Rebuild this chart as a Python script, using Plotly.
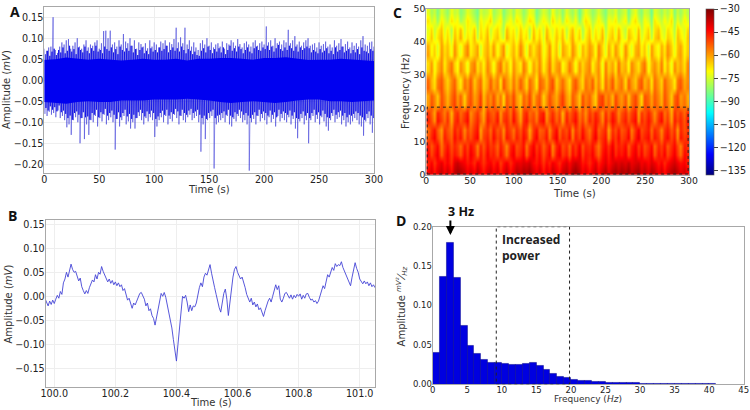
import plotly.graph_objects as go
from plotly.subplots import make_subplots

W = 750
H = 410

# panel A: largest peak of the trace every 2 s
a_time = list(range(0, 301, 2))
a_upper = [
    .075,.070,.078,.080,.150,.072,.065,.080,.090,.085,
    .095,.098,.075,.082,.090,.100,.080,.075,.085,.095,
    .078,.085,.082,.090,.095,.075,.088,.117,.118,.100,
    .118,.085,.090,.080,.095,.085,.110,.092,.088,.100,
    .082,.095,.075,.090,.086,.080,.088,.076,.095,.080,
    .090,.085,.078,.092,.088,.095,.082,.090,.086,.098,
    .125,.090,.102,.088,.125,.085,.095,.080,.090,.078,
    .072,.088,.095,.085,.100,.082,.090,.078,.085,.088,
    .080,.092,.075,.088,.085,.095,.090,.082,.098,.086,
    .078,.088,.092,.085,.080,.090,.095,.082,.088,.092,
    .085,.128,.090,.095,.082,.100,.088,.092,.085,.095,
    .090,.120,.088,.095,.105,.085,.092,.082,.090,.095,
    .100,.082,.085,.088,.078,.090,.082,.086,.092,.080,
    .085,.078,.095,.082,.088,.098,.080,.086,.092,.078,
    .090,.082,.088,.080,.095,.105,.085,.082,.090,.092,
    .080]
a_lower = [
    -.080,-.085,-.075,-.082,-.078,-.088,-.072,-.090,-.085,-.095,
    -.112,-.105,-.130,-.095,-.088,-.100,-.150,-.090,-.140,-.105,
    -.130,-.095,-.100,-.085,-.110,-.090,-.098,-.082,-.105,-.095,
    -.088,-.100,-.165,-.092,-.110,-.095,-.085,-.105,-.098,-.115,
    -.100,-.115,-.090,-.085,-.095,-.105,-.090,-.098,-.088,-.095,
    -.135,-.110,-.095,-.088,-.100,-.085,-.105,-.092,-.098,-.082,
    -.090,-.105,-.085,-.095,-.100,-.088,-.082,-.095,-.090,-.085,
    -.100,-.170,-.105,-.140,-.095,-.090,-.085,-.210,-.105,-.100,
    -.095,-.090,-.100,-.085,-.105,-.110,-.092,-.098,-.085,-.090,
    -.100,-.095,-.105,-.215,-.100,-.092,-.105,-.085,-.098,-.090,
    -.095,-.105,-.088,-.100,-.092,-.110,-.085,-.098,-.090,-.095,
    -.100,-.088,-.105,-.092,-.115,-.138,-.098,-.090,-.105,-.095,
    -.150,-.095,-.085,-.100,-.092,-.105,-.088,-.098,-.110,-.120,
    -.095,-.085,-.100,-.092,-.088,-.105,-.095,-.110,-.100,-.105,
    -.098,-.090,-.095,-.105,-.110,-.132,-.098,-.090,-.105,-.125,
    -.085]

# panel A: ordinary peaks between the large ones, odd seconds
a_mid_time = list(range(1, 300, 2))
a_mid_upper = [
    .062,.070,.058,.068,.075,.060,.072,.066,.078,.064,
    .070,.082,.068,.074,.062,.078,.072,.066,.080,.070,
    .064,.076,.070,.082,.068,.072,.064,.080,.074,.070,
    .078,.066,.074,.062,.080,.072,.068,.076,.070,.082,
    .066,.074,.060,.072,.078,.064,.070,.062,.076,.068,
    .072,.066,.078,.070,.074,.082,.066,.072,.078,.070,
    .076,.068,.080,.072,.064,.074,.070,.062,.068,.060,
    .058,.070,.076,.066,.080,.072,.064,.074,.068,.076,
    .066,.078,.062,.072,.082,.070,.076,.068,.080,.074,
    .064,.072,.078,.068,.064,.076,.080,.072,.070,.078,
    .074,.082,.072,.080,.068,.076,.084,.074,.070,.078,
    .072,.082,.076,.070,.080,.068,.078,.072,.076,.080,
    .076,.066,.072,.068,.064,.074,.066,.070,.076,.064,
    .070,.062,.078,.068,.072,.080,.066,.070,.074,.064,
    .072,.066,.074,.062,.078,.070,.068,.064,.074,.070]
a_mid_lower = [
    -.066,-.072,-.062,-.070,-.064,-.074,-.060,-.076,-.072,-.080,
    -.090,-.084,-.094,-.078,-.074,-.082,-.090,-.076,-.088,-.086,
    -.094,-.078,-.082,-.070,-.088,-.076,-.080,-.068,-.084,-.078,
    -.072,-.082,-.092,-.076,-.088,-.078,-.070,-.086,-.080,-.092,
    -.082,-.090,-.076,-.070,-.078,-.086,-.074,-.080,-.072,-.078,
    -.092,-.086,-.078,-.072,-.082,-.070,-.084,-.076,-.080,-.068,
    -.074,-.084,-.070,-.078,-.082,-.072,-.068,-.078,-.074,-.070,
    -.082,-.090,-.084,-.092,-.078,-.074,-.070,-.090,-.084,-.082,
    -.078,-.074,-.082,-.070,-.084,-.088,-.076,-.080,-.070,-.074,
    -.082,-.078,-.084,-.090,-.082,-.076,-.084,-.070,-.080,-.074,
    -.078,-.084,-.072,-.082,-.076,-.088,-.070,-.080,-.074,-.078,
    -.082,-.072,-.084,-.076,-.090,-.092,-.080,-.074,-.084,-.078,
    -.090,-.078,-.070,-.082,-.076,-.084,-.072,-.080,-.088,-.090,
    -.078,-.070,-.082,-.076,-.072,-.084,-.078,-.088,-.082,-.084,
    -.080,-.074,-.078,-.084,-.088,-.094,-.080,-.074,-.084,-.090]

# panel A: edges of the solid part of the trace, every 10 s
core_time = list(range(0, 301, 10))
core_upper = [.048,.050,.054,.052,.049,.051,.049,.047,.049,.051,.049,.049,.051,.047,.051,.051,
              .053,.053,.051,.049,.053,.053,.055,.051,.048,.049,.049,.051,.049,.047,.046]
core_lower = [-.052,-.054,-.056,-.052,-.050,-.052,-.052,-.048,-.048,-.048,-.046,-.046,-.046,-.044,-.046,-.048,
              -.052,-.054,-.052,-.050,-.052,-.054,-.052,-.048,-.046,-.046,-.050,-.050,-.052,-.050,-.048]

# panel B: one second of the trace, a value every 5 ms from 99.97 s
b_start = 99.97
b_step = 0.005
b_amp = [
    -.005,-.012,-.020,-.010,-.017,-.008,-.015,-.006,.002,-.004,
    .010,.004,.028,.036,.050,.040,.052,.067,.056,.050,
    .052,.040,.032,.038,.020,.012,.005,.012,.006,.018,
    .026,.034,.030,.045,.036,.050,.046,.062,.052,.045,
    .040,.030,.036,.027,.033,.024,.030,.022,.028,.020,
    .024,.012,.016,.002,-.008,-.004,-.018,-.025,-.014,-.018,
    -.010,-.002,.006,.008,.002,-.006,-.020,-.014,-.030,-.026,
    -.040,-.046,-.060,-.044,-.030,-.012,.006,.000,.008,-.002,
    -.018,-.030,-.048,-.066,-.090,-.118,-.135,-.100,-.062,-.025,
    .000,-.004,.002,-.012,-.032,-.018,-.030,-.020,-.022,-.014,
    .006,.018,.028,.020,.040,.048,.044,.056,.066,.048,
    .030,.018,.004,-.012,-.024,-.033,-.010,.006,.015,-.006,
    -.040,-.010,.020,.040,.056,.062,.050,.042,.036,.040,
    .030,.018,.004,-.006,-.012,-.004,-.018,-.012,-.022,-.016,
    -.028,-.024,-.034,-.042,-.030,-.018,-.010,-.004,-.012,.000,
    .012,.024,.014,.022,-.006,-.012,-.004,.006,.008,.002,
    -.004,.003,-.006,.002,-.003,.004,.000,.005,-.006,.002,
    -.004,.005,.006,-.002,-.008,-.006,-.012,-.009,-.015,-.010,
    .002,.010,.022,.016,.035,.045,.040,.052,.060,.054,
    .068,.062,.066,.064,.072,.060,.052,.044,.038,.030,
    .022,.040,.055,.070,.058,.050,.036,.030,.026,.032,
    .026,.030,.022,.028,.020,.024,.018]
b_time = [b_start + i * b_step for i in range(len(b_amp))]

# panel C: spectrogram power, dB below zero, bottom row first
c_freq = [1.25 + 2.5 * i for i in range(20)]
c_time = [1.875 + 3.75 * i for i in range(80)]
c_power = [
    [44,40,46,41,38,43,39,45,37,35, 36,39,43,40,44,38,42,46,41,39, 44,40,47,42,38,45,41,37,39,36, 37,35,40,43,39,46,41,44,38,42, 45,39,37,41,36,34,38,43,40,45, 41,38,44,39,36,42,37,35,38,35, 37,34,39,36,35,40,37,41,36,38, 43,39,45,40,37,35,38,42,39,44],
    [47,43,49,44,41,46,43,48,40,38, 41,43,46,44,48,42,45,49,44,43, 47,43,50,45,42,48,44,41,42,40, 41,39,44,46,43,49,44,47,42,45, 48,43,40,44,40,38,41,46,44,48, 44,41,47,43,40,45,41,39,41,39, 41,38,42,40,39,43,41,44,40,42, 46,43,48,44,41,39,42,45,43,47],
    [43,50,45,41,53,46,42,49,44,47, 52,43,48,41,46,54,44,50,42,47, 45,51,43,48,55,44,41,49,46,42, 53,45,40,47,43,51,46,42,55,44, 41,49,45,52,43,47,40,50,44,46, 42,48,53,44,41,46,39,47,43,45, 41,50,44,40,47,42,49,45,41,52, 44,47,42,50,45,41,48,54,43,46],
    [45,52,47,43,55,48,44,51,46,49, 54,45,50,43,48,56,46,52,44,49, 47,53,45,50,57,46,43,51,48,44, 55,47,42,49,45,53,48,44,57,46, 43,51,47,54,45,49,42,52,46,48, 44,50,55,46,43,48,41,49,45,47, 43,52,46,42,49,44,51,47,43,54, 46,49,44,52,47,43,50,56,45,48],
    [52,46,42,50,57,45,49,53,43,48, 44,55,47,51,45,42,58,49,46,52, 43,50,47,56,44,48,53,45,50,43, 47,58,46,42,51,49,44,55,47,41, 52,46,49,43,56,45,50,42,48,53, 46,41,51,47,44,58,45,49,43,50, 47,42,54,45,40,49,46,43,52,44, 48,55,46,43,50,45,57,44,49,46],
    [54,48,44,52,59,47,51,55,45,50, 46,57,49,53,47,44,60,51,48,54, 45,52,49,58,46,50,55,47,52,45, 49,60,48,44,53,51,46,57,49,43, 54,48,51,45,58,47,52,44,50,55, 48,43,53,49,46,60,47,51,45,52, 49,44,56,47,42,51,48,45,54,46, 50,57,48,45,52,47,59,46,51,48],
    [46,51,58,44,49,54,47,60,48,45, 52,47,43,56,50,46,53,59,45,49, 51,44,57,48,46,53,43,50,59,47, 44,52,49,55,46,43,57,50,45,53, 48,60,45,51,47,43,54,49,56,46, 50,44,48,57,45,52,43,47,55,49, 45,52,47,43,58,46,50,44,49,56, 47,43,53,48,59,45,50,46,52,44],
    [48,53,60,46,51,56,49,62,50,47, 54,49,45,58,52,48,55,61,47,51, 53,46,59,50,48,55,45,52,61,49, 46,54,51,57,48,45,59,52,47,55, 50,62,47,53,49,45,56,51,58,48, 52,46,50,59,47,54,45,49,57,51, 47,54,49,45,60,48,52,46,51,58, 49,45,55,50,61,47,52,48,54,46],
    [58,50,55,62,49,54,60,52,48,57, 51,63,53,49,58,54,47,61,52,56, 49,59,53,64,50,55,48,57,62,51, 55,48,60,53,50,63,56,49,54,59, 52,47,57,61,50,54,62,49,55,51, 58,63,50,47,56,52,60,48,54,57, 50,61,53,48,56,64,49,52,58,50, 55,60,49,54,62,51,48,57,53,59],
    [59,51,56,63,50,55,61,53,49,58, 52,64,54,50,59,55,48,62,53,57, 50,60,54,65,51,56,49,58,63,52, 56,49,61,54,51,64,57,50,55,60, 53,48,58,62,51,55,63,50,56,52, 59,64,51,48,57,53,61,49,55,58, 51,62,54,49,57,65,50,53,59,51, 56,61,50,55,63,52,49,58,54,60],
    [52,60,65,54,50,58,63,55,51,61, 66,53,57,50,62,56,52,64,58,51, 59,54,65,50,56,62,53,60,51,57, 64,52,58,66,51,55,61,53,49,63, 57,52,60,65,54,50,59,64,53,57, 51,62,55,66,52,58,50,61,56,53, 64,51,57,62,53,50,60,55,65,52, 58,63,51,56,60,66,53,50,59,55],
    [53,61,66,55,51,59,64,56,52,62, 67,54,58,51,63,57,53,65,59,52, 60,55,66,51,57,63,54,61,52,58, 65,53,59,67,52,56,62,54,50,64, 58,53,61,66,55,51,60,65,54,58, 52,63,56,67,53,59,51,62,57,54, 65,52,58,63,54,51,61,56,66,53, 59,64,52,57,61,67,54,51,60,56],
    [63,56,68,60,54,65,58,52,62,67, 55,61,69,57,53,64,59,66,54,60, 68,56,52,63,58,67,55,61,65,53, 59,69,57,62,54,66,60,52,64,57, 55,67,61,53,59,68,56,63,58,54, 66,60,55,69,53,62,57,65,52,61, 58,67,54,60,64,56,52,68,59,55, 62,53,66,58,69,55,61,57,64,54],
    [64,57,69,61,55,66,59,53,63,68, 56,62,70,58,54,65,60,67,55,61, 69,57,53,64,59,68,56,62,66,54, 60,70,58,63,55,67,61,53,65,58, 56,68,62,54,60,69,57,64,59,55, 67,61,56,70,54,63,58,66,53,62, 59,68,55,61,65,57,53,69,60,56, 63,54,67,59,70,56,62,58,65,55],
    [58,67,62,71,56,64,60,69,55,63, 70,59,54,66,61,57,72,63,58,65, 56,68,61,55,70,64,59,66,54,62, 71,58,65,60,56,69,63,55,67,60, 72,57,62,66,55,61,70,59,64,56, 60,68,54,63,71,58,66,56,62,69, 55,64,70,59,57,66,61,72,56,63, 68,58,65,55,62,70,60,57,67,61],
    [59,68,63,72,57,65,61,70,56,64, 71,60,55,67,62,58,73,64,59,66, 57,69,62,56,71,65,60,67,55,63, 72,59,66,61,57,70,64,56,68,61, 73,58,63,67,56,62,71,60,65,57, 61,69,55,64,72,59,67,57,63,70, 56,65,71,60,58,67,62,73,57,64, 69,59,66,56,63,71,61,58,68,62],
    [68,61,72,65,59,70,63,74,60,66, 58,71,64,68,60,75,62,67,59,72, 65,61,69,74,58,66,63,71,60,67, 64,75,59,68,62,72,58,65,70,61, 67,60,73,64,58,69,62,75,66,60, 71,63,68,59,74,65,61,70,58,67, 73,60,64,69,58,72,66,61,75,63, 59,68,71,62,66,74,60,65,70,61],
    [70,63,74,67,61,72,65,76,62,68, 60,73,66,70,62,77,64,69,61,74, 67,63,71,76,60,68,65,73,62,69, 66,77,61,70,64,74,60,67,72,63, 69,62,75,66,60,71,64,77,68,62, 73,65,70,61,76,67,63,72,60,69, 75,62,66,71,60,74,68,63,77,65, 61,70,73,64,68,76,62,67,72,63],
    [65,73,69,78,66,71,75,64,70,67, 77,72,65,69,74,79,66,71,68,63, 75,70,66,78,72,67,74,65,69,76, 71,64,68,79,73,66,70,75,63,72, 68,77,65,70,74,67,80,71,64,69, 76,72,66,73,78,68,70,65,75,71, 66,79,69,64,73,77,67,71,80,65, 70,74,67,72,64,78,69,75,66,71],
    [70,77,73,81,71,75,79,69,74,72, 80,76,70,73,78,82,71,75,73,68, 78,74,71,81,76,72,78,70,73,79, 75,69,72,82,77,71,74,79,68,76, 73,80,70,75,78,72,83,75,69,74, 79,76,71,77,81,73,75,70,78,75, 71,82,74,69,77,80,72,75,83,70, 74,78,72,76,69,81,73,78,71,75],
]
# correction of the row estimates after comparing colours, dB per row
c_row_shift = [0, 0, 1, 1, 1, 1, 1, 1, 2, 2, 2, 2, 3, 3, 3, 3, 3, 3, 3, 3]
c_ticks = [-30, -45, -60, -75, -90, -105, -120, -135]

# panel D: power per 1 Hz bin
d_freq = [i + 0.5 for i in range(41)]
d_amp = [.040,.136,.180,.135,.074,.049,.039,.031,.027,.027,
         .026,.025,.025,.026,.028,.024,.018,.013,.010,.008,
         .006,.005,.004,.003,.003,.002,.002,.002,.0015,.0015,
         .0012,.001,.001,.001,.0008,.0008,.0006,.0006,.0005,.0005,.0004]

jet = [[0, "#00007F"], [0.125, "#0000FF"], [0.375, "#00FFFF"],
       [0.625, "#FFFF00"], [0.875, "#FF0000"], [1, "#7F0000"]]

FRAME = "#a8a8a8"
GRID = "#eeeeee"


def tick_font(size):
    return dict(family="DejaVu Sans", size=size, color="#222222")


def dom_x(left, right):
    return [left / W, right / W]


def dom_y(top, bottom):
    return [1 - bottom / H, 1 - top / H]


def zigzag(times, highs, lows):
    xs = []
    ys = []
    for t, up, lo in zip(times, highs, lows):
        xs += [t, t + 0.5]
        ys += [up, lo]
    return xs, ys


fig = make_subplots(rows=2, cols=2)

big_x, big_y = zigzag(a_time, a_upper, a_lower)
fig.add_trace(go.Scatter(x=big_x, y=big_y, mode="lines",
                         line=dict(color="rgba(50,50,215,0.65)", width=0.8)), row=1, col=1)
mid_x, mid_y = zigzag(a_mid_time, a_mid_upper, a_mid_lower)
fig.add_trace(go.Scatter(x=mid_x, y=mid_y, mode="lines",
                         line=dict(color="#0a0ae6", width=0.8)), row=1, col=1)
fig.add_trace(go.Scatter(x=core_time + core_time[::-1], y=core_upper + core_lower[::-1],
                         mode="lines", fill="toself", fillcolor="#0000f0",
                         line=dict(color="#0000f0", width=0)), row=1, col=1)

c_z = [[-(v + shift) for v in row] for row, shift in zip(c_power, c_row_shift)]
fig.add_trace(go.Heatmap(x=c_time, y=c_freq, z=c_z,
                         colorscale=jet, zmin=-138, zmax=-30, zsmooth="best",
                         colorbar=dict(x=706.3 / W, xanchor="left", xpad=0, ypad=0,
                                       y=1 - 175 / H, yanchor="bottom",
                                       len=166.3 / H, lenmode="fraction", thickness=8,
                                       outlinecolor="#555555", outlinewidth=0.6,
                                       tickvals=c_ticks, ticks="outside", ticklen=4,
                                       tickfont=tick_font(9.6))), row=1, col=2)

fig.add_trace(go.Scatter(x=b_time, y=b_amp, mode="lines",
                         line=dict(color="#4444d6", width=0.9)), row=2, col=1)

fig.add_trace(go.Bar(x=d_freq, y=d_amp, width=1, marker=dict(color="#0000e0",
                     line=dict(color="#00008a", width=0.5))), row=2, col=2)

axis_style = dict(showline=True, mirror=True, linecolor=FRAME, linewidth=1.2,
                  gridcolor=GRID, gridwidth=1, zeroline=False,
                  ticks="", automargin=False, ticklabelstandoff=-2)

fig.update_xaxes(axis_style)
fig.update_yaxes(axis_style)
fig.update_xaxes(ticklabelstandoff=-3)

fig.update_xaxes(domain=dom_x(44.3, 374), range=[0, 300], tickvals=list(range(0, 301, 50)),
                 tickfont=tick_font(9.6), row=1, col=1)
fig.update_yaxes(domain=dom_y(6.7, 173), range=[-0.2207, 0.175],
                 tickvals=[-0.20, -0.15, -0.10, -0.05, 0, 0.05, 0.10, 0.15], tickformat=".2f",
                 tickfont=tick_font(9.6), row=1, col=1)

fig.update_xaxes(domain=dom_x(426.3, 689), range=[0, 300], tickvals=list(range(0, 301, 50)),
                 showgrid=False, tickfont=tick_font(9.3), row=1, col=2)
fig.update_yaxes(domain=dom_y(8.7, 175), range=[0, 50], tickvals=list(range(0, 51, 10)),
                 showgrid=False, tickfont=tick_font(9.3), row=1, col=2)

fig.update_xaxes(domain=dom_x(45.7, 375), range=[99.972, 101.05],
                 tickvals=[100.0, 100.2, 100.4, 100.6, 100.8, 101.0], tickformat=".1f",
                 tickfont=tick_font(9.6), row=2, col=1)
fig.update_yaxes(domain=dom_y(219.7, 387.3), range=[-0.1896, 0.1596],
                 tickvals=[-0.15, -0.10, -0.05, 0, 0.05, 0.10, 0.15], tickformat=".2f",
                 tickfont=tick_font(9.6), row=2, col=1)

fig.update_xaxes(domain=dom_x(432.7, 743.7), range=[0, 45], tickvals=list(range(0, 46, 5)),
                 showgrid=False, tickfont=tick_font(8.5), row=2, col=2)
fig.update_yaxes(domain=dom_y(226.7, 384.3), range=[0, 0.20],
                 tickvals=[0, 0.05, 0.10, 0.15, 0.20], tickformat=".2f", showgrid=False,
                 tickfont=tick_font(8.5), row=2, col=2)

# dashed boxes marking the 20 Hz band in C and the increased power band in D
box = dict(type="rect", line=dict(color="#222222", width=1, dash="dot"))
fig.add_shape(box, x0=1, x1=299, y0=0.3, y1=20.4, row=1, col=2)
fig.add_shape(box, x0=9.2, x1=19.8, y0=0, y1=0.2, row=2, col=2)

# axis titles sit tight against the tick labels, so they are placed by hand
axis_titles = [
    ("Time (s)", 209, 189, 0, 10),
    ("Amplitude (<i>mV</i>)", 7, 90, -90, 10),
    ("Time (s)", 574, 192.5, 0, 10.3),
    ("Frequency (Hz)", 406, 91, -90, 10),
    ("Time (s)", 211, 402.5, 0, 10),
    ("Amplitude (<i>mV</i>)", 7.5, 304, -90, 10),
    ("Frequency (<i>Hz</i>)", 588, 398.5, 0, 9),
    ("Amplitude <i><sup>mV²</sup>⁄<sub>Hz</sub></i>", 401.7, 306.7, -90, 10),
]
for text, px, py, angle, size in axis_titles:
    fig.add_annotation(text=text, xref="paper", yref="paper", x=px / W, y=1 - py / H,
                       showarrow=False, textangle=angle, xanchor="center", yanchor="middle",
                       font=dict(family="DejaVu Sans", size=size, color="#333333"))

notes = [("A", 15, 11), ("B", 12, 215), ("C", 397, 12), ("D", 401, 220)]
for text, px, py in notes:
    fig.add_annotation(text=f"<b>{text}</b>", xref="paper", yref="paper", x=px / W, y=1 - py / H,
                       showarrow=False, font=dict(family="Open Sans", size=14, color="#111111"),
                       xanchor="center", yanchor="middle")

fig.add_annotation(text="<b>3 Hz</b>", xref="paper", yref="paper", x=461 / W, y=1 - 211 / H,
                   showarrow=False, font=dict(family="Open Sans", size=12.5, color="#111111"),
                   xanchor="center", yanchor="middle")
fig.add_annotation(text="<b>Increased<br>power</b>", xref="x4", yref="y4", x=9.7, y=0.197,
                   showarrow=False, font=dict(family="Open Sans", size=12, color="#222222"),
                   align="left", xanchor="left", yanchor="top")
fig.add_annotation(x=2.56, y=0.1895, xref="x4", yref="y4", ax=0, ay=-16, axref="pixel", ayref="pixel",
                   text="", showarrow=True, arrowhead=2, arrowsize=0.9, arrowwidth=2, arrowcolor="#000000")

fig.update_layout(width=W, height=H, margin=dict(l=0, r=0, t=0, b=0), showlegend=False,
                  paper_bgcolor="white", plot_bgcolor="white", bargap=0)

# the page's default body margin would push the figure 8 px off
fig.write_html("out.html", config={"displayModeBar": False},
               post_script="document.body.style.margin='0';document.body.style.overflow='hidden';")
